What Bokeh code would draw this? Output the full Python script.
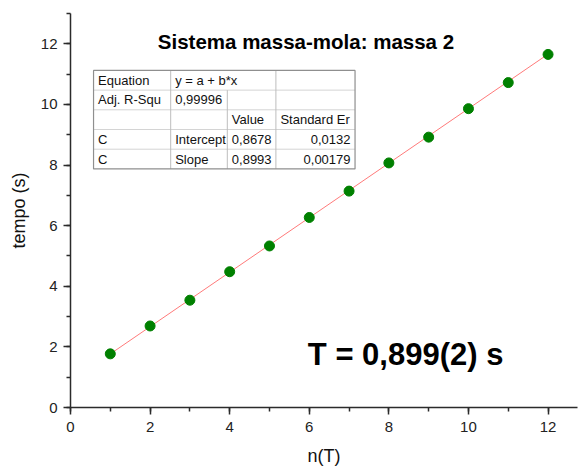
from bokeh.plotting import figure
from bokeh.models import Label, SingleIntervalTicker, Range1d
from bokeh.embed import file_html
from bokeh.resources import INLINE
from bokeh.core.properties import value

# ---- data ----
n_periods = [1, 2, 3, 4, 5, 6, 7, 8, 9, 10, 11, 12]
tempo = [1.77, 2.69, 3.54, 4.48, 5.33, 6.27, 7.14, 8.07, 8.92, 9.86, 10.72, 11.65]
fit_intercept = 0.8678
fit_slope = 0.8993
fit_x = [1, 12]

title_text = "Sistema massa-mola: massa 2"
result_text = "T = 0,899(2) s"
x_label = "n(T)"
y_label = "tempo (s)"

table_rows = [
    ["Equation", "y = a + b*x", "", ""],
    ["Adj. R-Squ", "0,99996", "", ""],
    ["", "", "Value", "Standard Er"],
    ["C", "Intercept", "0,8678", "0,0132"],
    ["C", "Slope", "0,8993", "0,00179"],
]

FONT = "Liberation Sans"

# page pixel -> data helpers (for annotation placement only)
X0_PX, X_SCALE = 70.0, 39.72
Y0_PX, Y_SCALE = 407.3, 30.33


def dx(px):
    return (px - X0_PX) / X_SCALE


def dy(py):
    return (Y0_PX - py) / Y_SCALE


p = figure(width=578, height=468, output_backend="svg", toolbar_location=None,
           x_range=Range1d(0, 12.74), y_range=Range1d(0, 13),
           min_border_left=70, min_border_right=1, min_border_top=13, min_border_bottom=61)
p.outline_line_color = None
p.xgrid.visible = False
p.ygrid.visible = False
p.background_fill_color = "white"
p.border_fill_color = "white"

for ax in (p.xaxis[0], p.yaxis[0]):
    ax.ticker = SingleIntervalTicker(interval=2, num_minor_ticks=2)
    ax.axis_line_color = "#2b2b2b"
    ax.axis_line_width = 1.5
    ax.major_tick_line_color = "#2b2b2b"
    ax.minor_tick_line_color = "#2b2b2b"
    ax.major_tick_line_width = 1.5
    ax.minor_tick_line_width = 1.5
    ax.major_tick_out = 7
    ax.major_tick_in = 0
    ax.minor_tick_out = 4
    ax.minor_tick_in = 0
    ax.major_label_text_font = FONT
    ax.major_label_text_font_size = "15px"
    ax.major_label_text_color = "#222222"
    ax.axis_label_text_font = FONT
    ax.axis_label_text_font_size = "18px"
    ax.axis_label_text_font_style = "normal"
    ax.axis_label_text_color = "#111111"

p.xaxis.axis_label = x_label
p.yaxis.axis_label = y_label
p.xaxis.major_label_standoff = 7
p.xaxis.axis_label_standoff = 11
p.yaxis.major_label_standoff = 6
p.yaxis.axis_label_standoff = 9

# fit line
fit_y = [fit_intercept + fit_slope * x for x in fit_x]
p.line(fit_x, fit_y, line_color="#ff7a7a", line_width=1)

# data points
p.scatter(n_periods, tempo, size=10, fill_color="#008000", line_color="#008000")

# title inside the plot
p.add_layout(Label(x=dx(305), y=dy(41.5), text=title_text, text_align="center",
                   text_baseline="alphabetic", text_font=FONT, text_font_size="20.5px",
                   text_font_style="bold", text_color="#000000"))

# result label
p.add_layout(Label(x=dx(404.5), y=dy(354.3), text=result_text, text_align="center",
                   text_baseline="alphabetic", text_font=FONT, text_font_size="31px",
                   text_font_style="bold", text_color="#000000"))

# ---- fit results table ----
col_px = [93, 170, 226.5, 275, 354]
row_px = [70, 89.7, 109.4, 129.1, 148.8, 168.5]
cx = [dx(v) for v in col_px]
ry = [dy(v) for v in row_px]

# horizontal inner lines
h_x0, h_x1, h_y = [], [], []
for r in ry[1:-1]:
    h_x0.append(cx[0]); h_x1.append(cx[-1]); h_y.append(r)
p.segment(x0=h_x0, y0=h_y, x1=h_x1, y1=h_y, line_color="#d4d4d4", line_width=1)

# vertical inner lines
p.segment(x0=[cx[1], cx[2], cx[3]], y0=[ry[0], ry[1], ry[0]],
          x1=[cx[1], cx[2], cx[3]], y1=[ry[-1], ry[-1], ry[-1]],
          line_color="#bdbdbd", line_width=1)

# outer border
p.quad(left=[cx[0]], right=[cx[-1]], top=[ry[0]], bottom=[ry[-1]],
       fill_color=None, line_color="#8f8f8f", line_width=1.2)

tx, ty, ttext, talign = [], [], [], []
left_pad = 4.5
right_pad = 4.5
for i, row in enumerate(table_rows):
    ymid = (ry[i] + ry[i + 1]) / 2
    for j, cell in enumerate(row):
        if not cell:
            continue
        numeric_right = (j == 3 and i >= 3)
        if numeric_right:
            tx.append(dx(col_px[j + 1] - right_pad))
            talign.append("right")
        else:
            tx.append(dx(col_px[j] + left_pad))
            talign.append("left")
        ty.append(ymid)
        ttext.append(cell)

p.text(x=tx, y=ty, text=ttext, text_align=talign, text_baseline="middle",
       text_font=value(FONT), text_font_size="13px", text_color="#111111")

open("out.html", "w").write(file_html(p, INLINE))
